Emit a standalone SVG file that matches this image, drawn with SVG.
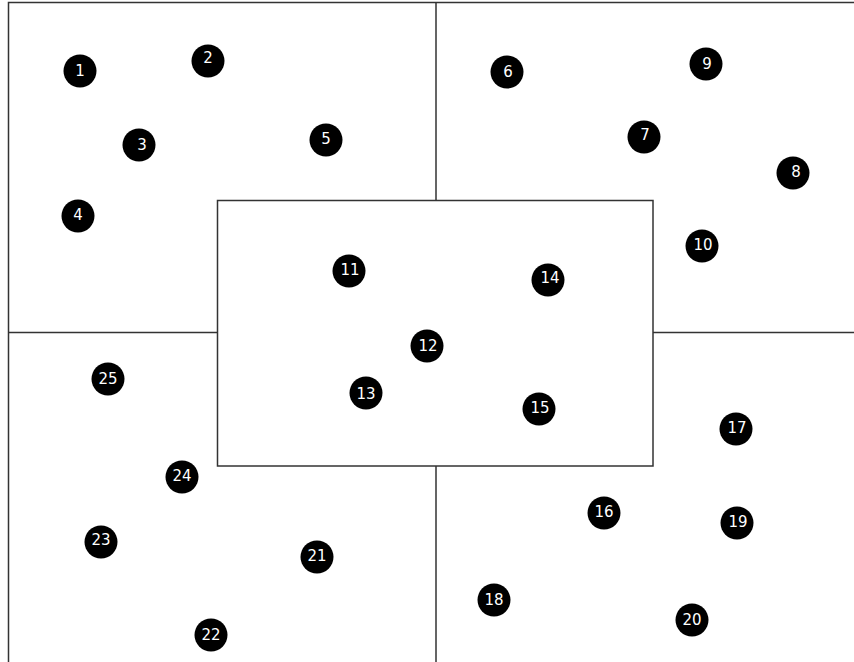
<svg xmlns="http://www.w3.org/2000/svg" width="854" height="662" viewBox="0 0 854 662">
<style>
.ln{stroke:#333;stroke-width:1.5;fill:none}
.nd circle{fill:#000}
.nd text{fill:#fff;font-family:"DejaVu Sans",sans-serif;font-size:15px;text-anchor:middle;dominant-baseline:central}
</style>
<rect width="854" height="662" fill="#fff"/>
<g id="connectors">
<path class="ln" d="M8.5,662 V2.5 H854"/>
<path class="ln" d="M436,2.5 V200 M436,466 V662"/>
<path class="ln" d="M8.5,332.5 H217 M653,332.5 H854"/>
<rect class="ln" x="217.5" y="200.5" width="435.5" height="265.5"/>
</g>
<g id="n1" class="nd"><circle cx="80" cy="71" r="16.5"/><text x="80" y="71">1</text></g>
<g id="n2" class="nd"><circle cx="208" cy="61" r="16.5"/><text x="208" y="58">2</text></g>
<g id="n3" class="nd"><circle cx="139" cy="145" r="16.5"/><text x="142" y="145">3</text></g>
<g id="n4" class="nd"><circle cx="78" cy="216" r="16.5"/><text x="78" y="215">4</text></g>
<g id="n5" class="nd"><circle cx="326" cy="140" r="16.5"/><text x="326" y="139">5</text></g>
<g id="n6" class="nd"><circle cx="507" cy="72" r="16.5"/><text x="508" y="72">6</text></g>
<g id="n7" class="nd"><circle cx="644" cy="137" r="16.5"/><text x="645" y="135">7</text></g>
<g id="n8" class="nd"><circle cx="793" cy="173" r="16.5"/><text x="796" y="172">8</text></g>
<g id="n9" class="nd"><circle cx="706" cy="64" r="16.5"/><text x="707" y="64">9</text></g>
<g id="n10" class="nd"><circle cx="702" cy="246" r="16.5"/><text x="703" y="245">10</text></g>
<g id="n11" class="nd"><circle cx="349" cy="271" r="16.5"/><text x="350" y="270">11</text></g>
<g id="n12" class="nd"><circle cx="427" cy="346" r="16.5"/><text x="428" y="346">12</text></g>
<g id="n13" class="nd"><circle cx="366" cy="393" r="16.5"/><text x="366" y="394">13</text></g>
<g id="n14" class="nd"><circle cx="548" cy="280" r="16.5"/><text x="550" y="278">14</text></g>
<g id="n15" class="nd"><circle cx="539" cy="409" r="16.5"/><text x="540" y="408">15</text></g>
<g id="n16" class="nd"><circle cx="604" cy="513" r="16.5"/><text x="604" y="512">16</text></g>
<g id="n17" class="nd"><circle cx="736" cy="429" r="16.5"/><text x="737" y="428">17</text></g>
<g id="n18" class="nd"><circle cx="494" cy="600" r="16.5"/><text x="494" y="600">18</text></g>
<g id="n19" class="nd"><circle cx="737" cy="523" r="16.5"/><text x="738" y="522">19</text></g>
<g id="n20" class="nd"><circle cx="692" cy="620" r="16.5"/><text x="692" y="620">20</text></g>
<g id="n21" class="nd"><circle cx="317" cy="557" r="16.5"/><text x="317" y="556">21</text></g>
<g id="n22" class="nd"><circle cx="211" cy="635" r="16.5"/><text x="211" y="635">22</text></g>
<g id="n23" class="nd"><circle cx="101" cy="542" r="16.5"/><text x="101" y="540">23</text></g>
<g id="n24" class="nd"><circle cx="182" cy="477" r="16.5"/><text x="182" y="476">24</text></g>
<g id="n25" class="nd"><circle cx="108" cy="379" r="16.5"/><text x="108" y="379">25</text></g>
</svg>
